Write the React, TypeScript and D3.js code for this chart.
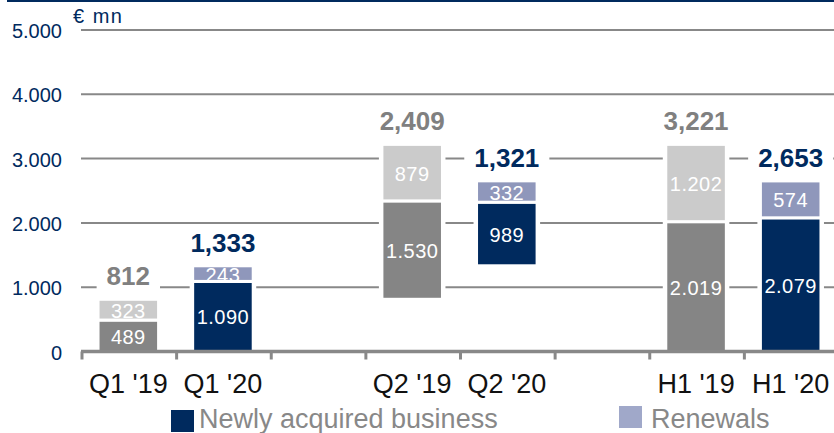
import React, { useEffect, useRef } from "react";
import * as d3 from "d3";

// values in € mn
const categories = ["Q1 '19", "Q1 '20", "Q2 '19", "Q2 '20", "H1 '19", "H1 '20"];
const bases = [0, 0, 812, 1333, 0, 0];
const newBusiness = [489, 1090, 1530, 989, 2019, 2079];
const renewals = [323, 243, 879, 332, 1202, 574];
const newLabels = ["489", "1.090", "1.530", "989", "2.019", "2.079"];
const renewalLabels = ["323", "243", "879", "332", "1.202", "574"];
const totalLabels = ["812", "1,333", "2,409", "1,321", "3,221", "2,653"];
const yTicks = [0, 1000, 2000, 3000, 4000, 5000];
const yTickLabels = ["0", "1.000", "2.000", "3.000", "4.000", "5.000"];
const legendItems = ["Newly acquired business", "Renewals"];

const NAVY = "#002A5E";
const DARK_GREY = "#858585";
const LIGHT_GREY = "#cbcbcb";
const LAVENDER = "#8f97bb";
const GRID = "#888888";
const FONT = "'Liberation Sans', Arial, sans-serif";

function BusinessChart() {
  const ref = useRef<SVGSVGElement | null>(null);

  useEffect(() => {
    drawChart();
  }, []);

  function drawChart() {
    const width = 834;
    const height = 433;
    const svg = d3.select(ref.current);
    svg.selectAll("*").remove();

    // 8 slots: two empty slots separate the pairs
    const slots: string[] = [];
    categories.forEach((c, i) => {
      slots.push(c);
      if (i === 1 || i === 3) slots.push("gap" + i);
    });

    const x = d3.scaleBand<string>().domain(slots).range([81, 838]).paddingInner(0.36).paddingOuter(0.18);
    const y = d3.scaleLinear().domain([0, 5000]).range([351.5, 30]);

    // top rule
    svg.append("rect").attr("x", 7).attr("y", 0).attr("width", width - 7).attr("height", 2).attr("fill", NAVY);

    // gridlines
    svg
      .append("g")
      .selectAll("line")
      .data(yTicks.filter((t) => t > 0))
      .join("line")
      .attr("x1", 81)
      .attr("x2", width)
      .attr("y1", (d) => y(d))
      .attr("y2", (d) => y(d))
      .attr("stroke", GRID)
      .attr("stroke-width", 2);

    // y labels
    svg
      .append("g")
      .selectAll("text")
      .data(yTicks)
      .join("text")
      .attr("x", 62)
      .attr("y", (d) => y(d) + 1)
      .attr("text-anchor", "end")
      .attr("dominant-baseline", "central")
      .attr("font-family", FONT)
      .attr("font-size", 20)
      .attr("fill", NAVY)
      .text((d, i) => yTickLabels[i]);

    svg
      .append("text")
      .attr("x", 73)
      .attr("y", 23)
      .attr("font-family", FONT)
      .attr("font-size", 20)
      .attr("letter-spacing", 1.5)
      .attr("fill", NAVY)
      .text("€ mn");

    // baseline axis with ticks at every slot boundary
    const axis = svg.append("g");
    axis
      .selectAll("line.tick")
      .data(slots)
      .join("line")
      .attr("class", "tick")
      .attr("x1", (d) => (x(d) as number) - (x.step() - x.bandwidth()) / 2 + 1)
      .attr("x2", (d) => (x(d) as number) - (x.step() - x.bandwidth()) / 2 + 1)
      .attr("y1", y(0))
      .attr("y2", y(0) + 8)
      .attr("stroke", GRID)
      .attr("stroke-width", 3);

    // bars
    const bars = svg
      .append("g")
      .selectAll("g")
      .data(categories)
      .join("g");

    const bw = x.bandwidth();

    // white halo so gridlines break around each bar
    bars
      .append("rect")
      .attr("x", (d) => (x(d) as number) - 3)
      .attr("width", bw + 6)
      .attr("y", (d, i) => y(bases[i] + newBusiness[i] + renewals[i]) - 3)
      .attr("height", (d, i) => y(bases[i]) - y(bases[i] + newBusiness[i] + renewals[i]) + (bases[i] > 0 ? 6 : 3))
      .attr("fill", "#fff");

    bars
      .append("rect")
      .attr("x", (d) => x(d) as number)
      .attr("width", bw)
      .attr("y", (d, i) => y(bases[i] + newBusiness[i]))
      .attr("height", (d, i) => y(bases[i]) - y(bases[i] + newBusiness[i]))
      .attr("fill", (d, i) => (i % 2 === 0 ? DARK_GREY : NAVY))
      .attr("stroke", "#fff")
      .attr("stroke-width", 3);

    bars
      .append("rect")
      .attr("x", (d) => x(d) as number)
      .attr("width", bw)
      .attr("y", (d, i) => y(bases[i] + newBusiness[i] + renewals[i]))
      .attr("height", (d, i) => y(bases[i] + newBusiness[i]) - y(bases[i] + newBusiness[i] + renewals[i]))
      .attr("fill", (d, i) => (i % 2 === 0 ? LIGHT_GREY : LAVENDER))
      .attr("stroke", "#fff")
      .attr("stroke-width", 3);

    // axis line drawn over the bottom stroke of the bars
    svg
      .append("line")
      .attr("x1", 81)
      .attr("x2", width)
      .attr("y1", y(0))
      .attr("y2", y(0))
      .attr("stroke", GRID)
      .attr("stroke-width", 3.5);

    const cx = (d: string) => (x(d) as number) + bw / 2;

    bars
      .append("text")
      .attr("x", cx)
      .attr("y", (d, i) => y(bases[i] + newBusiness[i] / 2) + 1)
      .attr("text-anchor", "middle")
      .attr("dominant-baseline", "central")
      .attr("font-family", FONT)
      .attr("font-size", 20)
      .attr("letter-spacing", 0.5)
      .attr("fill", "#fff")
      .text((d, i) => newLabels[i]);

    bars
      .append("text")
      .attr("x", cx)
      .attr("y", (d, i) => y(bases[i] + newBusiness[i] + renewals[i] / 2) + 1)
      .attr("text-anchor", "middle")
      .attr("dominant-baseline", "central")
      .attr("font-family", FONT)
      .attr("font-size", 20)
      .attr("letter-spacing", 0.5)
      .attr("fill", "#fff")
      .text((d, i) => renewalLabels[i]);

    // totals with white backing
    bars.each(function (d, i) {
      const g = d3.select(this);
      const bg = g.append("rect").attr("fill", "#fff");
      const t = g
        .append("text")
        .attr("x", cx(d))
        .attr("y", y(bases[i] + newBusiness[i] + renewals[i]) - 14)
        .attr("text-anchor", "middle")
        .attr("font-family", FONT)
        .attr("font-size", 26)
        .attr("font-weight", "bold")
        .attr("fill", i % 2 === 0 ? "#808080" : NAVY)
        .text(totalLabels[i]);
      const b = (t.node() as SVGTextElement).getBBox();
      bg.attr("x", b.x - 10).attr("y", b.y).attr("width", b.width + 20).attr("height", b.height);
    });

    // category labels
    svg
      .append("g")
      .selectAll("text")
      .data(categories)
      .join("text")
      .attr("x", cx)
      .attr("y", 393)
      .attr("text-anchor", "middle")
      .attr("font-family", FONT)
      .attr("font-size", 27)
      .attr("fill", "#111")
      .text((d) => d);

    // legend
    const legendX = [171, 619];
    const legendColors = [NAVY, "#a0a8c9"];
    const legend = svg
      .append("g")
      .selectAll("g")
      .data(legendItems)
      .join("g")
      .attr("transform", (d, i) => `translate(${legendX[i]},0)`);
    legend
      .append("rect")
      .attr("x", 0)
      .attr("y", (d, i) => (i === 0 ? 410 : 406))
      .attr("width", 23)
      .attr("height", 22)
      .attr("fill", (d, i) => legendColors[i]);
    legend
      .append("text")
      .attr("x", (d, i) => (i === 0 ? 28 : 32))
      .attr("y", 428)
      .attr("font-family", FONT)
      .attr("font-size", 27)
      .attr("fill", GRID)
      .text((d) => d);
  }

  return (
    <svg
      ref={ref}
      width={834}
      height={433}
      style={{ position: "absolute", left: 0, top: 0, display: "block", background: "#fff" }}
    />
  );
}

export default function App() {
  return <BusinessChart />;
}
